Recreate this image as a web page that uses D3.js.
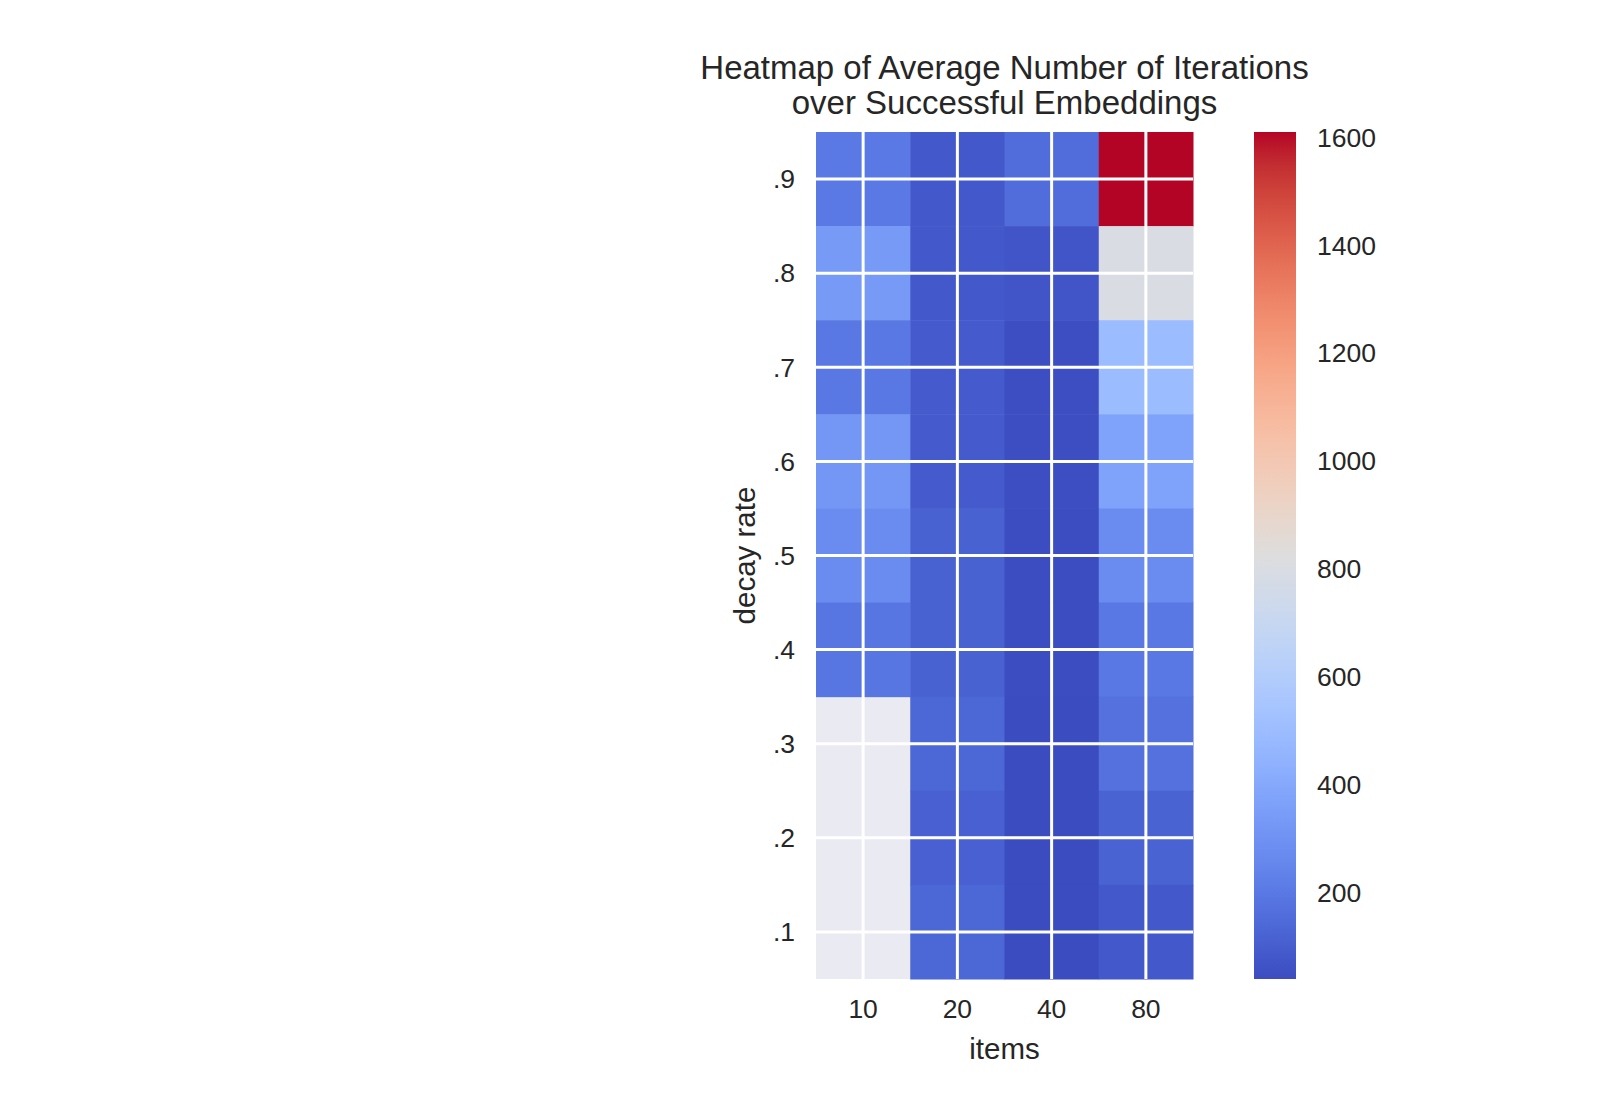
<!DOCTYPE html>
<html>
<head>
<meta charset="utf-8">
<script src="https://cdn.jsdelivr.net/npm/d3@7"></script>
<style>
  html, body { margin: 0; padding: 0; background: #fff; }
  text { font-family: "Liberation Sans", Arial, sans-serif; fill: #262626; }
</style>
</head>
<body>
<div id="chart"></div>
<script>
// data: average iterations, rows = decay rate (top to bottom), cols = items
var items = ["10", "20", "40", "80"];
var decay = [".9", ".8", ".7", ".6", ".5", ".4", ".3", ".2", ".1"];
var iters10 = [202, 334, 200, 320, 276, 191, null, null, null];
var iters20 = [86, 81, 92, 92, 118, 118, 134, 111, 134];
var iters40 = [158, 72, 48, 46, 42, 42, 40, 40, 40];
var iters80 = [1610, 800, 496, 370, 276, 197, 172, 122, 83];
var cbarTicks = [200, 400, 600, 800, 1000, 1200, 1400, 1600];

var columns = [iters10, iters20, iters40, iters80];
var cells = [];
decay.forEach(function(d, i) {
  items.forEach(function(it, j) {
    cells.push({ decay: d, item: it, value: columns[j][i] });
  });
});

// matplotlib coolwarm
var coolwarm = ["#3b4cc0", "#445acc", "#4d68d7", "#5775e1", "#6282ea", "#6c8ef1", "#779af7", "#82a5fb",
  "#8db0fe", "#98b9ff", "#a3c2ff", "#aec9fd", "#b8d0f9", "#c2d5f4", "#ccd9ee", "#d5dbe6", "#dddddd",
  "#e5d8d1", "#ecd3c5", "#f1ccb9", "#f5c4ad", "#f7bba0", "#f7b194", "#f7a687", "#f49a7b", "#f18d6f",
  "#ec7f63", "#e57058", "#de604d", "#d55042", "#cb3e38", "#c0282f", "#b40426"];

var allVals = cells.map(function(c) { return c.value; }).filter(function(v) { return v != null; });
var ext = d3.extent(allVals);
var color = d3.scaleLinear()
  .domain(d3.range(coolwarm.length).map(function(i) { return ext[0] + (ext[1] - ext[0]) * i / (coolwarm.length - 1); }))
  .range(coolwarm)
  .interpolate(d3.interpolateRgb)
  .clamp(true);

var W = 1600, H = 1100;
var plotL = 816, plotR = 1193, plotT = 132, plotB = 979;

var svg = d3.select('#chart').append('svg')
  .attr('width', W)
  .attr('height', H);

var x = d3.scaleBand().domain(items).range([plotL, plotR]);
var y = d3.scaleBand().domain(decay).range([plotT, plotB]);

// axes background shows through missing cells
svg.append('rect')
  .attr('x', plotL).attr('y', plotT)
  .attr('width', plotR - plotL).attr('height', plotB - plotT)
  .style('fill', '#eaeaf2');

svg.selectAll('rect.cell')
  .data(cells.filter(function(c) { return c.value != null; }))
  .enter()
  .append('rect')
  .attr('class', 'cell')
  .attr('x', function(d) { return x(d.item); })
  .attr('y', function(d) { return y(d.decay); })
  .attr('width', x.bandwidth() + 0.5)
  .attr('height', y.bandwidth() + 0.5)
  .style('fill', function(d) { return color(d.value); });

// white grid at tick positions (cell centres)
svg.selectAll('line.vgrid')
  .data(items)
  .enter()
  .append('line')
  .attr('x1', function(d) { return x(d) + x.bandwidth() / 2; })
  .attr('x2', function(d) { return x(d) + x.bandwidth() / 2; })
  .attr('y1', plotT).attr('y2', plotB)
  .style('stroke', '#fff').style('stroke-width', 3);

svg.selectAll('line.hgrid')
  .data(decay)
  .enter()
  .append('line')
  .attr('y1', function(d) { return y(d) + y.bandwidth() / 2; })
  .attr('y2', function(d) { return y(d) + y.bandwidth() / 2; })
  .attr('x1', plotL).attr('x2', plotR)
  .style('stroke', '#fff').style('stroke-width', 3);

// tick labels
svg.selectAll('text.ylab')
  .data(decay)
  .enter()
  .append('text')
  .attr('x', 795)
  .attr('y', function(d) { return y(d) + y.bandwidth() / 2; })
  .attr('dy', '0.35em')
  .attr('text-anchor', 'end')
  .style('font-size', '26.5px')
  .text(function(d) { return d; });

svg.selectAll('text.xlab')
  .data(items)
  .enter()
  .append('text')
  .attr('x', function(d) { return x(d) + x.bandwidth() / 2; })
  .attr('y', 1018)
  .attr('text-anchor', 'middle')
  .style('font-size', '26.5px')
  .text(function(d) { return d; });

svg.append('text')
  .attr('x', (plotL + plotR) / 2)
  .attr('y', 1059)
  .attr('text-anchor', 'middle')
  .style('font-size', '29.5px')
  .text('items');

svg.append('text')
  .attr('transform', 'translate(755,' + (plotT + plotB) / 2 + ') rotate(-90)')
  .attr('text-anchor', 'middle')
  .style('font-size', '29.5px')
  .text('decay rate');

var title = svg.append('text')
  .attr('text-anchor', 'middle')
  .style('font-size', '33px');
title.append('tspan').attr('x', (plotL + plotR) / 2).attr('y', 79).text('Heatmap of Average Number of Iterations');
title.append('tspan').attr('x', (plotL + plotR) / 2).attr('y', 114).text('over Successful Embeddings');

// colorbar
var cbX = 1254, cbW = 42;
var cy = d3.scaleLinear().domain(ext).range([plotB, plotT]);

var grad = svg.append('defs').append('linearGradient')
  .attr('id', 'cbar')
  .attr('x1', 0).attr('y1', 1).attr('x2', 0).attr('y2', 0);
grad.selectAll('stop')
  .data(d3.range(0, 1.0001, 0.02))
  .enter()
  .append('stop')
  .attr('offset', function(d) { return d; })
  .attr('stop-color', function(d) { return color(ext[0] + d * (ext[1] - ext[0])); });

svg.append('rect')
  .attr('x', cbX).attr('y', plotT)
  .attr('width', cbW).attr('height', plotB - plotT)
  .style('fill', 'url(#cbar)');

svg.selectAll('text.cblab')
  .data(cbarTicks)
  .enter()
  .append('text')
  .attr('x', 1317)
  .attr('y', function(d) { return cy(d); })
  .attr('dy', '0.35em')
  .style('font-size', '26.5px')
  .text(function(d) { return d; });
</script>
</body>
</html>
